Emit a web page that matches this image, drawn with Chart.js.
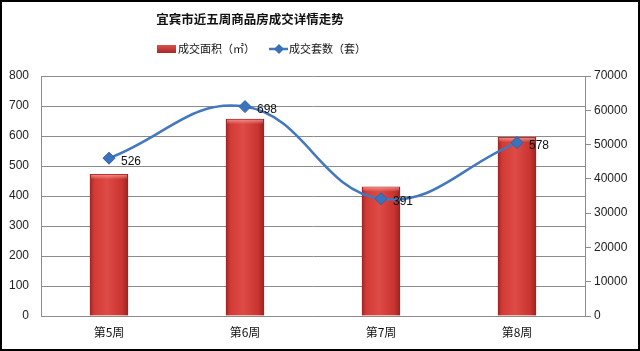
<!DOCTYPE html>
<html><head><meta charset="utf-8">
<script src="https://cdn.jsdelivr.net/npm/chart.js@4.4.0/dist/chart.umd.min.js"></script>
<style>
html,body{margin:0;padding:0;background:#fff;}
#wrap{width:640px;height:351px;position:relative;}
</style></head>
<body><div id="wrap"><canvas id="c" width="640" height="351"></canvas></div>
<script>
const categories = ['第5周', '第6周', '第7周', '第8周'];
const areaValues = [41300, 57400, 37700, 52100];   // 成交面积（㎡）, right axis
const unitValues = [526, 698, 391, 578];           // 成交套数（套）, left axis
const leftTicks = [0, 100, 200, 300, 400, 500, 600, 700, 800];
const rightTicks = [0, 10000, 20000, 30000, 40000, 50000, 60000, 70000];
const titleText = '宜宾市近五周商品房成交详情走势';
const areaLabel = '成交面积（㎡）';
const unitLabel = '成交套数（套）';

const FONT = '"Liberation Sans", Arial, sans-serif';
const CJK = '"Noto Sans CJK SC", "Noto Sans", sans-serif';

function barGradient(context) {
  const chart = context.chart;
  const xs = chart.scales.x;
  if (!xs || context.dataIndex === undefined) return '#c83a36';
  const cx = xs.getPixelForValue(context.dataIndex);
  if (!isFinite(cx)) return '#c83a36';
  const g = chart.ctx.createLinearGradient(cx - 19, 0, cx + 19, 0);
  g.addColorStop(0, '#a82624');
  g.addColorStop(0.12, '#d23c37');
  g.addColorStop(0.45, '#de4a45');
  g.addColorStop(0.85, '#c8342f');
  g.addColorStop(1, '#9c2220');
  return g;
}

const barBevel = {
  id: 'barBevel',
  afterDatasetDraw(chart, args) {
    if (args.index !== 0) return;
    const ctx = chart.ctx;
    ctx.save();
    chart.getDatasetMeta(0).data.forEach(bar => {
      const w = bar.width, x0 = bar.x - w / 2, y0 = bar.y;
      const g = ctx.createLinearGradient(0, y0, 0, y0 + 5);
      g.addColorStop(0, 'rgba(255,170,165,0.75)');
      g.addColorStop(1, 'rgba(255,170,165,0)');
      ctx.fillStyle = g;
      ctx.fillRect(x0 + 1, y0 + 0.5, w - 2, 5);
    });
    ctx.restore();
  }
};

const decor = {
  id: 'decor',
  afterDraw(chart) {
    const ctx = chart.ctx;
    ctx.save();
    ctx.fillStyle = '#111';
    ctx.font = 'bold 12.5px ' + CJK;
    ctx.textAlign = 'center';
    ctx.textBaseline = 'middle';
    ctx.fillText(titleText, 250, 19);
    const lg = ctx.createLinearGradient(0, 44, 0, 53);
    lg.addColorStop(0, '#e05a55'); lg.addColorStop(1, '#a82624');
    ctx.fillStyle = lg;
    ctx.fillRect(157, 45, 19, 8);
    ctx.font = '11px ' + CJK;
    ctx.fillStyle = '#111';
    ctx.textAlign = 'left';
    ctx.fillText(areaLabel, 178, 49);
    ctx.strokeStyle = '#4377be';
    ctx.lineWidth = 2.5;
    ctx.beginPath(); ctx.moveTo(269, 49); ctx.lineTo(288, 49); ctx.stroke();
    ctx.fillStyle = '#3a6fb8';
    ctx.beginPath(); ctx.moveTo(279, 44); ctx.lineTo(284, 49); ctx.lineTo(279, 54); ctx.lineTo(274, 49); ctx.closePath(); ctx.fill();
    ctx.fillStyle = '#111';
    ctx.fillText(unitLabel, 289, 49);
    const meta = chart.getDatasetMeta(1);
    ctx.font = '12px ' + FONT;
    ctx.fillStyle = '#111';
    meta.data.forEach((pt, i) => {
      ctx.fillText(String(unitValues[i]), pt.x + 12, pt.y + 3);
    });
    ctx.strokeStyle = '#000';
    ctx.lineWidth = 2;
    ctx.strokeRect(1, 1, 638, 349);
    ctx.restore();
  }
};

new Chart(document.getElementById('c'), {
  data: {
    labels: categories,
    datasets: [
      {
        type: 'bar', label: areaLabel, data: areaValues, yAxisID: 'y1',
        backgroundColor: barGradient, borderColor: '#9a2422', borderWidth: 0.8,
        barThickness: 38, order: 2
      },
      {
        type: 'line', label: unitLabel, data: unitValues, yAxisID: 'y',
        borderColor: '#4377be', borderWidth: 2.5, tension: 0.42,
        pointStyle: 'rectRot', pointRadius: 6, pointBackgroundColor: '#3a72bc',
        pointBorderColor: '#2f62a8', pointBorderWidth: 1, order: 1, fill: false
      }
    ]
  },
  options: {
    responsive: false, animation: false,
    layout: { padding: { top: 76, left: 0, right: 0, bottom: 0 } },
    plugins: { legend: { display: false }, title: { display: false }, tooltip: { enabled: false } },
    scales: {
      x: {
        offset: true,
        grid: { display: false, drawTicks: false },
        border: { display: true, color: '#8c8c8c', width: 1 },
        ticks: { color: '#111', font: { family: CJK, size: 12 }, padding: 9 },
        afterFit(s) { s.height = 35; }
      },
      y: {
        position: 'left', min: 0, max: 800,
        afterBuildTicks(s) { s.ticks = leftTicks.map(v => ({ value: v })); },
        grid: { color: '#8c8c8c', lineWidth: 1, drawTicks: false },
        border: { display: true, color: '#8c8c8c', width: 1 },
        ticks: { color: '#222', font: { family: FONT, size: 12 }, padding: 12 },
        afterFit(s) { s.width = 41; }
      },
      y1: {
        position: 'right', min: 0, max: 70000,
        afterBuildTicks(s) { s.ticks = rightTicks.map(v => ({ value: v })); },
        grid: { drawOnChartArea: false, drawTicks: true, tickLength: 6, color: '#8c8c8c' },
        border: { display: true, color: '#8c8c8c', width: 1 },
        ticks: { color: '#222', font: { family: FONT, size: 12 }, padding: 3, callback: v => String(v) },
        afterFit(s) { s.width = 55; }
      }
    }
  },
  plugins: [barBevel, decor]
});
</script>
</body></html>
